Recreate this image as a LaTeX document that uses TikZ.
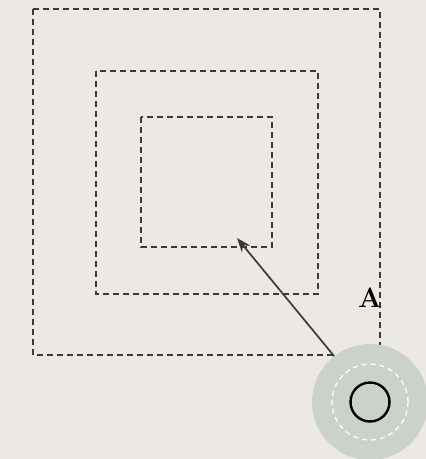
\documentclass[tikz,border=0pt]{standalone}
\usetikzlibrary{arrows.meta}
\usetikzlibrary{positioning}
\usepackage{xcolor}
\definecolor{paper}{HTML}{ECE8E3}
\definecolor{sage}{HTML}{CAD2C9}
\definecolor{inkgrey}{HTML}{3A3A3A}

\begin{document}
\begin{tikzpicture}[
        x=1pt, y=-1pt,
        zone/.style={draw=inkgrey, dashed, dash pattern=on 6pt off 4pt,
          line width=1.8pt},
        halo/.style={circle, fill=sage, minimum size=116pt, inner sep=0pt},
        ring/.style={circle, draw=white, dashed, dash pattern=on 5pt off 4pt,
          line width=1.3pt, minimum size=76pt, inner sep=0pt},
        dot/.style={circle, draw=black, line width=2.4pt,
          minimum size=39pt, inner sep=0pt},
        arrow/.style={-{Stealth[length=5mm, width=3.8mm]}, line width=1.7pt,
          draw=inkgrey},
      ]
        \useasboundingbox (0,0) rectangle (426,459);
        \fill[paper] (0,0) rectangle (426,459);
        \clip (0,0) rectangle (426,459);

        \draw[zone] (33,9) rectangle (380,355);
        \draw[zone] (96,71) rectangle (318,294);
        \draw[zone] (141,117) rectangle (272,247);

        \node[halo] (halo) at (370,402) {};
        \node[ring] (ring) at (halo.center) {};
        \node[dot] (dot) at (halo.center) {};
        \node[font=\fontsize{28}{30}\selectfont\bfseries] (label) at (370,298) {A};

        \coordinate (target) at (237,238);
        \draw[arrow] (halo.128) -- (target);
      \end{tikzpicture}
\end{document}
